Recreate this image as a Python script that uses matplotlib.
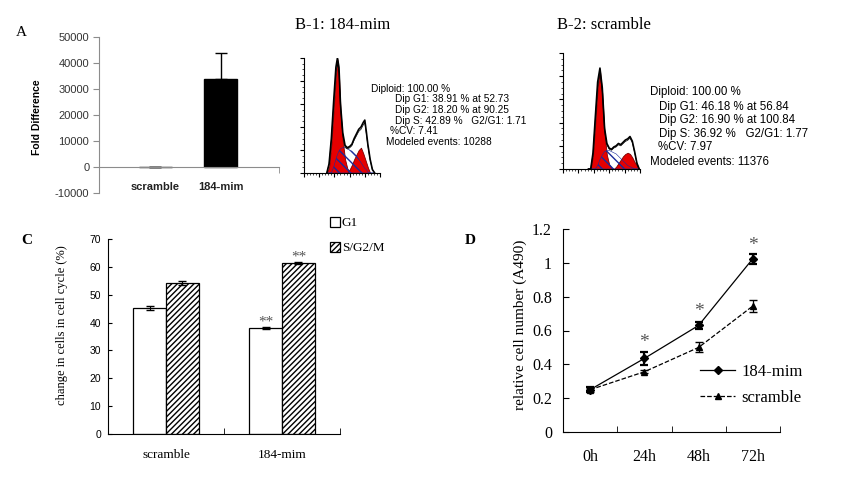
import matplotlib
matplotlib.use("Agg")
import matplotlib.pyplot as plt

W, H = 841, 479
SERIF = "Liberation Serif"
SANS = "Liberation Sans"

# ---- panel A: fold difference ----
a_groups = ["scramble", "184-mim"]
a_values = [1, 33800]
a_err = [0, 10000]
a_yticks = [-10000, 0, 10000, 20000, 30000, 40000, 50000]

# ---- panel B: flow histograms (channel, counts) ----
b1_title = "B-1: 184-mim"
b1_x = [30, 33, 36, 39, 42, 44, 46, 48, 51, 54, 57, 60, 63, 66, 69, 72, 75, 78, 80, 82, 84, 87, 90, 93]
b1_g1 = [0, 5, 25, 55, 85, 99, 85, 55, 28, 12, 4, 1, 0, 0, 0, 0, 0, 0, 0, 0, 0, 0, 0, 0]
b1_s = [0, 0, 0, 5, 12, 16, 19, 21, 22, 22, 21, 20, 19, 17, 15, 12, 9, 6, 4, 3, 1, 0, 0, 0]
b1_g2 = [0, 0, 0, 0, 0, 0, 0, 0, 0, 0, 0, 3, 7, 12, 16, 20, 22, 17, 13, 9, 5, 0, 0, 0]
b1_env = [0, 8, 30, 62, 92, 100, 92, 60, 35, 24, 22, 23, 25, 30, 34, 38, 40, 44, 46, 36, 25, 12, 3, 0]
b1_text = ["Diploid: 100.00 %", "Dip G1: 38.91 % at 52.73", "Dip G2: 18.20 % at 90.25",
           "Dip S: 42.89 %   G2/G1: 1.71", "%CV: 7.41", "Modeled events: 10288"]

b2_title = "B-2: scramble"
b2_x = [33, 36, 39, 42, 45, 48, 51, 54, 57, 60, 63, 66, 69, 72, 75, 78, 81, 84, 87, 90, 93, 96, 99]
b2_g1 = [0, 0, 12, 40, 70, 85, 65, 30, 12, 4, 1, 0, 0, 0, 0, 0, 0, 0, 0, 0, 0, 0, 0]
b2_s = [0, 0, 0, 0, 3, 8, 12, 15, 16, 16, 15, 14, 13, 11, 9, 7, 5, 3, 2, 1, 0, 0, 0]
b2_g2 = [0, 0, 0, 0, 0, 0, 0, 0, 0, 0, 0, 0, 2, 5, 8, 11, 13, 14, 13, 10, 6, 3, 0]
b2_env = [0, 0, 14, 45, 75, 87, 70, 35, 22, 18, 17, 19, 20, 22, 21, 23, 25, 26, 28, 24, 15, 5, 0]
b2_text = ["Diploid: 100.00 %", "Dip G1: 46.18 % at 56.84", "Dip G2: 16.90 % at 100.84",
           "Dip S: 36.92 %   G2/G1: 1.77", "%CV: 7.97", "Modeled events: 11376"]

# ---- panel C: cell cycle ----
c_groups = ["scramble", "184-mim"]
c_g1 = [45.3, 38.1]
c_g1_err = [0.7, 0.3]
c_sg2m = [54.2, 61.5]
c_sg2m_err = [0.6, 0.4]
c_g1_star = [None, 40.2]
c_sg2m_star = [None, 63.6]

# ---- panel D: growth curve ----
d_times = ["0h", "24h", "48h", "72h"]
d_mim = [0.25, 0.435, 0.63, 1.025]
d_mim_err = [0.015, 0.04, 0.02, 0.03]
d_scr = [0.25, 0.356, 0.50, 0.745]
d_scr_err = [0.012, 0.01, 0.03, 0.035]
d_star = [None, 0.53, 0.71, 1.10]


def box(l, t, r, b):
    return [l / W, 1 - b / H, (r - l) / W, (b - t) / H]


def fx(x):
    return x / W


def fy(y):
    return 1 - y / H


fig = plt.figure(figsize=(W / 100, H / 100), dpi=100)

# ===== A =====
ax = fig.add_axes(box(99, 37, 279, 193))
ax.spines["top"].set_visible(False)
ax.spines["right"].set_visible(False)
ax.spines["bottom"].set_position(("data", 0))
for s in ("left", "bottom"):
    ax.spines[s].set_color("#8c8c8c")
xa = range(len(a_groups))
ax.bar(xa, a_values, width=0.5, color="black", edgecolor="black", linewidth=1)
ax.errorbar(xa, a_values, yerr=[[0] * len(a_err), a_err], fmt="none", ecolor="black",
            elinewidth=1, capsize=4)
ax.set_xlim(-0.85, 1.88)
ax.set_ylim(-10000, 50000)
ax.set_yticks(a_yticks)
ax.set_yticklabels([str(v) for v in a_yticks], fontsize=8, family=SANS, color="#333333")
ax.set_xticks(list(xa))
ax.set_xticklabels(a_groups, fontsize=8, family=SANS, fontweight="bold", color="#222222")
ax.set_xticks([1.88], minor=True)
ax.tick_params(axis="x", which="major", length=0, pad=11)
ax.tick_params(axis="x", which="minor", length=4, direction="out", color="#8c8c8c")
ax.tick_params(axis="y", length=4, direction="out", color="#8c8c8c", pad=3)
fig.text(fx(37), fy(117), "Fold Difference", rotation=90, ha="center", va="center",
         fontsize=7.5, family=SANS, fontweight="bold")
fig.text(fx(21), fy(32), "A", fontsize=11, family=SERIF, ha="center", va="center")


# ===== B =====
def flow(rect, xs, g1, s, g2, env, xmax):
    bx = fig.add_axes(rect)
    bx.fill_between(xs, s, color="white", zorder=1)
    bx.fill_between(xs, g1, facecolor="#e60000", edgecolor="#7a0000", linewidth=0.6, zorder=2)
    bx.fill_between(xs, g2, facecolor="#e60000", edgecolor="#7a0000", linewidth=0.6, zorder=2)
    bx.fill_between(xs, s, facecolor="none", edgecolor="#1a2a9a", hatch="\\\\\\",
                    linewidth=0.4, zorder=3)
    bx.plot(xs, env, color="black", linewidth=1.2, zorder=4)
    bx.plot(xs, [v * 0.95 for v in env], color="black", linewidth=0.5, zorder=4)
    bx.set_xlim(0, xmax)
    bx.set_ylim(0, 100)
    bx.spines["top"].set_visible(False)
    bx.spines["right"].set_visible(False)
    bx.set_xticks(range(0, xmax + 1, 20))
    bx.set_xticks(range(0, xmax + 1, 4), minor=True)
    bx.set_yticks(range(0, 101, 20))
    bx.set_yticks(range(0, 101, 5), minor=True)
    bx.set_xticklabels([])
    bx.set_yticklabels([])
    bx.tick_params(which="major", length=3, width=0.8, direction="out")
    bx.tick_params(which="minor", length=1.5, width=0.5, direction="out")
    bx.patch.set_alpha(0)
    return bx


flow(box(304, 58, 380, 173), b1_x, b1_g1, b1_s, b1_g2, b1_env, 100)
flow(box(563, 53, 640, 169), b2_x, b2_g1, b2_s, b2_g2, b2_env, 100)

fig.text(fx(295), fy(25), b1_title, fontsize=12, family=SERIF, va="center")
fig.text(fx(557), fy(25), b2_title, fontsize=12, family=SERIF, va="center")

b1_pos = [(371, 89), (395, 99.5), (395, 110), (395, 120.5), (390, 131), (386, 141.5)]
for (x, y), t in zip(b1_pos, b1_text):
    fig.text(fx(x), fy(y), t, fontsize=7.3, family=SANS, va="center")
b2_pos = [(650, 92), (659, 107), (659, 120), (659, 134), (658, 147), (650, 162)]
for (x, y), t in zip(b2_pos, b2_text):
    fig.text(fx(x), fy(y), t, fontsize=8.3, family=SANS, va="center")

# ===== C =====
cx = fig.add_axes(box(108, 239, 340, 434))
xc = range(len(c_groups))
bw = 0.284
b_g1 = cx.bar([i - bw / 2 for i in xc], c_g1, width=bw, color="white", edgecolor="black",
              linewidth=0.9, label="G1")
b_s = cx.bar([i + bw / 2 for i in xc], c_sg2m, width=bw, color="white", edgecolor="black",
             linewidth=0.9, hatch="//////", label="S/G2/M")
cx.errorbar([i - bw / 2 for i in xc], c_g1, yerr=c_g1_err, fmt="none", ecolor="black",
            elinewidth=0.8, capsize=3)
cx.errorbar([i + bw / 2 for i in xc], c_sg2m, yerr=c_sg2m_err, fmt="none", ecolor="black",
            elinewidth=0.8, capsize=3)
for i in xc:
    if c_g1_star[i] is not None:
        cx.text(i - bw / 2, c_g1_star[i], "**", ha="center", va="center", fontsize=11,
                family=SERIF, color="#555555")
    if c_sg2m_star[i] is not None:
        cx.text(i + bw / 2, c_sg2m_star[i], "**", ha="center", va="center", fontsize=11,
                family=SERIF, color="#555555")
cx.set_xlim(-0.5, 1.5)
cx.set_ylim(0, 70)
cx.set_yticks(range(0, 71, 10))
cx.set_yticklabels([str(v) for v in range(0, 71, 10)], fontsize=7.5, family=SANS)
cx.set_xticks(list(xc))
cx.set_xticklabels(c_groups, fontsize=9.5, family=SERIF)
cx.set_xticks([0.5, 1.5], minor=True)
cx.tick_params(axis="x", which="major", length=0, pad=11)
cx.tick_params(axis="x", which="minor", length=4, direction="in")
cx.tick_params(axis="y", length=3, direction="in", pad=5)
cx.spines["top"].set_visible(False)
cx.spines["right"].set_visible(False)
cx.legend(handles=[b_g1, b_s], loc="upper left", bbox_to_anchor=(fx(330), fy(217)),
          bbox_transform=fig.transFigure, frameon=False, handlelength=0.75,
          handleheight=0.75, handletextpad=0.15, labelspacing=0.95,
          prop={"family": SERIF, "size": 9.5}, borderaxespad=0, borderpad=0)
fig.text(fx(62), fy(325), "change in cells in cell cycle (%)", rotation=90, ha="center",
         va="center", fontsize=9, family=SERIF)
fig.text(fx(27), fy(241), "C", fontsize=11, family=SERIF, fontweight="bold", ha="center",
         va="center")

# ===== D =====
dx = fig.add_axes(box(563, 229, 780, 432))
xd = list(range(len(d_times)))
l_mim, = dx.plot(xd, d_mim, color="black", linestyle="-", linewidth=0.9, marker="D",
                 markersize=4, label="184-mim")
l_scr, = dx.plot(xd, d_scr, color="black", linestyle="--", linewidth=0.9, marker="^",
                 markersize=4.5, label="scramble")
dx.errorbar(xd, d_mim, yerr=d_mim_err, fmt="none", ecolor="black", elinewidth=1.6,
            capsize=3, capthick=1.6)
dx.errorbar(xd, d_scr, yerr=d_scr_err, fmt="none", ecolor="black", elinewidth=0.9,
            capsize=3)
for i in xd:
    if d_star[i] is not None:
        dx.text(i, d_star[i], "*", ha="center", va="center", fontsize=14, family=SERIF,
                color="#555555")
dx.set_xlim(-0.5, 3.5)
dx.set_ylim(0, 1.2)
yt = [0, 0.2, 0.4, 0.6, 0.8, 1, 1.2]
dx.set_yticks(yt)
dx.set_yticklabels(["0", "0.2", "0.4", "0.6", "0.8", "1", "1.2"], fontsize=11.5, family=SERIF)
dx.set_xticks(xd)
dx.set_xticklabels(d_times, fontsize=11.5, family=SERIF)
dx.set_xticks([0.5, 1.5, 2.5, 3.5], minor=True)
dx.tick_params(axis="x", which="major", length=0, pad=12)
dx.tick_params(axis="x", which="minor", length=4, direction="in")
dx.tick_params(axis="y", length=4, direction="in", pad=8)
dx.spines["top"].set_visible(False)
dx.spines["right"].set_visible(False)
dx.legend(handles=[l_mim, l_scr], loc="upper left", bbox_to_anchor=(fx(700), fy(364)),
          bbox_transform=fig.transFigure, frameon=False, handlelength=2.1,
          handletextpad=0.4, labelspacing=0.6, prop={"family": SERIF, "size": 12},
          borderaxespad=0, borderpad=0)
fig.text(fx(520), fy(325), "relative cell number (A490)", rotation=90, ha="center",
         va="center", fontsize=11, family=SERIF)
fig.text(fx(470), fy(240), "D", fontsize=11, family=SERIF, fontweight="bold", ha="center",
         va="center")

fig.savefig("out.png", dpi=100)
